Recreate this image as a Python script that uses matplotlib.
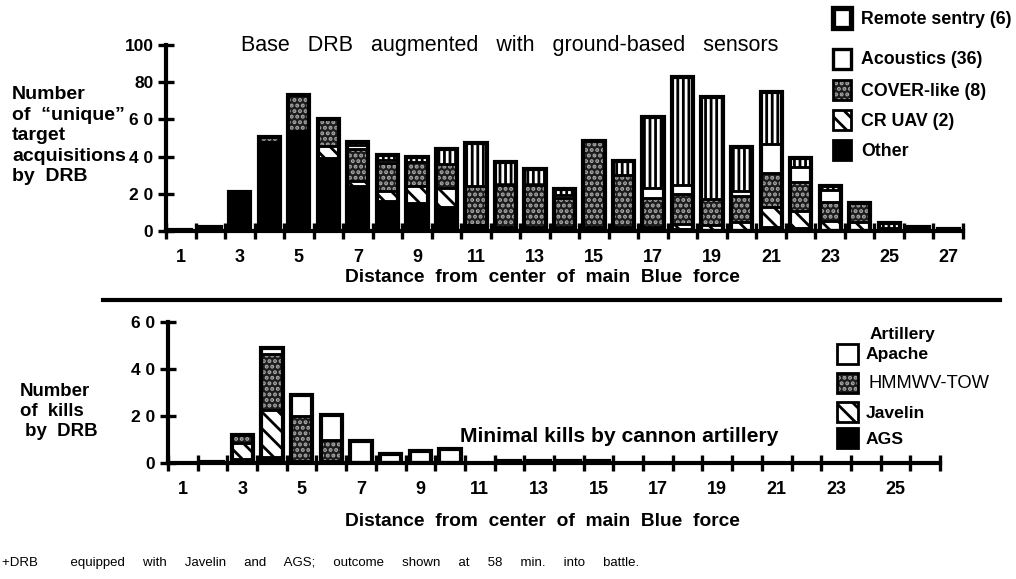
import numpy as np
import matplotlib
matplotlib.use("Agg")
import matplotlib.pyplot as plt
from matplotlib.patches import Rectangle

plt.rcParams["font.family"] = ["Liberation Sans", "DejaVu Sans"]
plt.rcParams["hatch.linewidth"] = 2.0

# ---- upper panel: target acquisitions by distance bin ----
top_bins = list(range(1, 28))
top_other = [0.5, 2, 21, 48, 54, 39, 24, 16, 15, 13, 3, 2, 2, 2, 2, 2, 2, 1,
             0, 0, 2, 1.5, 0.5, 0.5, 1.5, 0, 1]
top_cr_uav = [0, 0, 0, 0, 0, 6.5, 3, 5.5, 9, 10, 0, 0, 0, 0, 0, 0, 0, 3,
              3, 5, 11, 9, 5, 4.5, 0, 0, 0]
top_cover = [0, 0, 0, 2.5, 19, 14.5, 17, 15, 13, 13, 21, 23, 23, 16, 46.5, 28,
             16, 16, 14, 14, 18, 16, 10, 10, 0, 0, 0]
top_acoustics = [0, 0, 0, 0, 0, 0, 2, 1.5, 0, 0, 0, 0, 0, 1.5, 0, 0, 5, 5,
                 0, 2.5, 16, 8, 6.5, 0, 0, 0, 0]
top_remote = [0, 0, 0, 0, 0, 0, 2, 3, 3, 8, 23.5, 12, 8.5, 3, 0, 7.5, 38.5, 58,
              55, 23.5, 27.5, 4.5, 2, 0, 3, 2, 0]
top_yticks = [0, 20, 40, 60, 80, 100]
top_ylabels = ["0", "2 0", "4 0", "6 0", "80", "100"]

# ---- lower panel: kills by distance bin ----
bot_bins = list(range(1, 27))
bot_ags = [0, 0.5, 1.5, 2.5, 1, 1, 0, 0, 0, 0, 0, 0.8, 0.8, 0.8, 0.8,
           0, 0, 0, 0, 0, 0, 0, 0, 0, 0, 0]
bot_javelin = [0, 0, 7, 20, 0, 0, 0, 0, 0, 0, 0, 0, 0, 0, 0,
               0, 0, 0, 0, 0, 0, 0, 0, 0, 0, 0]
bot_hmmwv = [0, 0, 3.5, 24, 19, 9, 0, 0, 0, 0, 0, 0, 0, 0, 0,
             0, 0, 0, 0, 0, 0, 0, 0, 0, 0, 0]
bot_apache = [0, 0, 0, 2.5, 9, 10.5, 9.5, 4, 5, 6, 0, 0, 0, 0, 0,
              0, 0, 0, 0, 0, 0, 0, 0, 0, 0, 0]
bot_yticks = [0, 20, 40, 60]
bot_ylabels = ["0", "2 0", "4 0", "6 0"]

# fill styles: (face colour, hatch, hatch colour)
STY_OTHER = ("black", None, "black")
STY_CRUAV = ("white", "\\\\", "black")
STY_COVER = ("#1c1c1c", "...", "#a8a8a8")
STY_WHITE = ("white", None, "black")
STY_REMOTE = ("black", "|||", "white")

BAR_W = 0.72


def draw_stack(ax, x, layers):
    x = np.asarray(x, float)
    bottom = np.zeros(len(x))
    for vals, (face, hatch, hcol) in layers:
        vals = np.asarray(vals, float)
        m = vals > 0
        ax.bar(x[m], vals[m], BAR_W, bottom=bottom[m], color=face, hatch=hatch,
               edgecolor=hcol, linewidth=0, zorder=2)
        ax.bar(x[m], vals[m], BAR_W, bottom=bottom[m], fill=False,
               edgecolor="black", linewidth=1.8, zorder=3)
        bottom += vals
    m = bottom > 0
    ax.bar(x[m], bottom[m], BAR_W, fill=False, edgecolor="black",
           linewidth=3.0, zorder=4)


def style_axis(ax, nbins, yticks, ylabels, ymax):
    ax.set_xlim(0.5, nbins + 0.5)
    ax.set_ylim(0, ymax)
    for s in ("top", "right"):
        ax.spines[s].set_visible(False)
    for s in ("left", "bottom"):
        ax.spines[s].set_linewidth(3)
        ax.spines[s].set_zorder(6)
    edges = np.arange(0.5, nbins + 1.0, 1.0)
    ax.set_xticks(edges)
    ax.set_xticklabels([])
    ax.tick_params(axis="x", which="major", direction="inout", length=12, width=2.4)
    odd = list(range(1, nbins + 1, 2))
    ax.set_xticks(odd, [str(v) for v in odd], minor=True)
    ax.tick_params(axis="x", which="minor", length=0, pad=13, labelsize=13)
    for t in ax.get_xticklabels(minor=True):
        t.set_fontweight("bold")
    ax.set_yticks(yticks, ylabels)
    ax.tick_params(axis="y", direction="inout", length=12, width=2.4,
                   labelsize=12.5, pad=3)
    for t in ax.get_yticklabels():
        t.set_fontweight("bold")
    ax.patch.set_alpha(0)


W, H = 1016, 579
fig = plt.figure(figsize=(W / 100, H / 100), dpi=100)

ax1 = fig.add_axes([166 / W, 1 - 231 / H, 797 / W, 186 / H])
draw_stack(ax1, top_bins, [(top_other, STY_OTHER), (top_cr_uav, STY_CRUAV),
                           (top_cover, STY_COVER), (top_acoustics, STY_WHITE),
                           (top_remote, STY_REMOTE)])
style_axis(ax1, len(top_bins), top_yticks, top_ylabels, 100)

ax2 = fig.add_axes([168 / W, 1 - 463 / H, 772 / W, 141 / H])
draw_stack(ax2, bot_bins, [(bot_ags, STY_OTHER), (bot_javelin, STY_CRUAV),
                           (bot_hmmwv, STY_COVER), (bot_apache, STY_WHITE)])
style_axis(ax2, len(bot_bins), bot_yticks, bot_ylabels, 60)

# overlay in pixel coordinates for annotations and legend keys
ov = fig.add_axes([0, 0, 1, 1], zorder=-1)
ov.set_xlim(0, W)
ov.set_ylim(H, 0)
ov.axis("off")

ov.text(510, 45, "Base   DRB   augmented   with   ground-based   sensors",
        ha="center", va="center", fontsize=15.5)
ov.text(542, 277, "Distance  from  center  of  main  Blue  force",
        ha="center", va="center", fontsize=13.8, fontweight="bold")
ov.text(542, 522, "Distance  from  center  of  main  Blue  force",
        ha="center", va="center", fontsize=13.8, fontweight="bold")
ov.text(619, 437, "Minimal kills by cannon artillery",
        ha="center", va="center", fontsize=15.2, fontweight="bold")

ov.text(12, 86, "Number\nof  \u201cunique\u201d\ntarget\nacquisitions\nby  DRB",
        ha="left", va="top", fontsize=14, fontweight="bold", linespacing=1.27)
ov.text(20, 383, "Number\nof  kills\n by  DRB",
        ha="left", va="top", fontsize=13.4, fontweight="bold", linespacing=1.22)

ov.plot([103, 1000], [300, 300], color="black", lw=3)

ov.text(2, 563, "+DRB         equipped     with     Javelin     and     AGS;     "
        "outcome     shown     at     58     min.     into     battle.",
        ha="left", va="center", fontsize=9.5)


def key(x, y, w, h, sty, lw=2.0):
    face, hatch, hcol = sty
    ov.add_patch(Rectangle((x, y), w, h, facecolor=face, hatch=hatch,
                           edgecolor=hcol, linewidth=0))
    ov.add_patch(Rectangle((x, y), w, h, fill=False, edgecolor="black",
                           linewidth=lw))


top_keys = [("Remote sentry (6)", STY_WHITE, 8, 3.8),
            ("Acoustics (36)", STY_WHITE, 49, 2.4),
            ("COVER-like (8)", STY_COVER, 80, 2.0),
            ("CR UAV (2)", STY_CRUAV, 110, 2.0),
            ("Other", STY_OTHER, 140, 2.0)]
for label, sty, y, lw in top_keys:
    key(833, y, 18, 20, sty, lw)
    ov.text(861, y + 11, label, ha="left", va="center", fontsize=12.8,
            fontweight="bold")

ov.text(902, 335, "Artillery", ha="center", va="center", fontsize=12.5,
        fontweight="bold")
bot_keys = [("Apache", STY_WHITE, 344, "bold"),
            ("HMMWV-TOW", STY_COVER, 373, "normal"),
            ("Javelin", STY_CRUAV, 402, "bold"),
            ("AGS", STY_OTHER, 428, "bold")]
for label, sty, y, wt in bot_keys:
    key(837, y, 21, 20, sty)
    ov.text(866 if wt == "bold" else 869, y + 11, label, ha="left",
            va="center", fontsize=12.6 if wt == "bold" else 13.2,
            fontweight=wt)

fig.savefig("out.png", dpi=100)
